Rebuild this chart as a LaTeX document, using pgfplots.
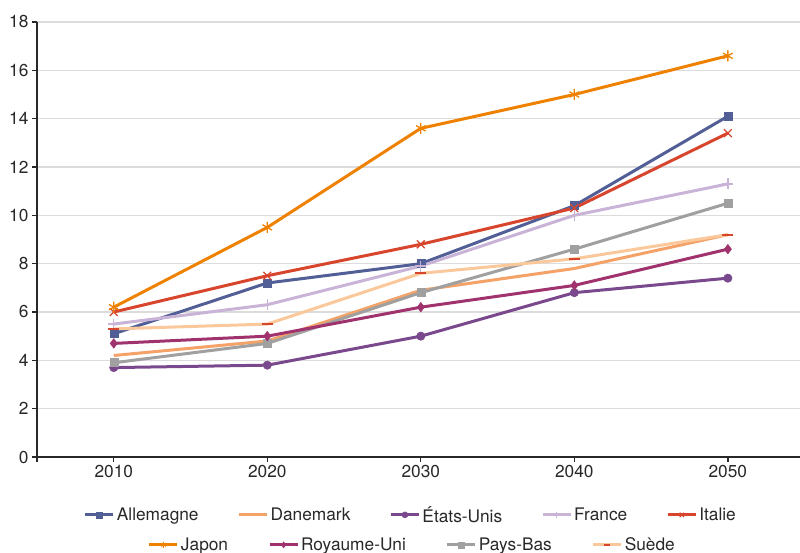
\documentclass[border=0pt]{standalone}
\usepackage{pgfplots}
\pgfplotsset{compat=1.18}
\usepackage{fontspec}
\setmainfont{TeX Gyre Heros}
\definecolor{cAll}{RGB}{82,94,150}
\definecolor{cDan}{RGB}{244,162,104}
\definecolor{cUS}{RGB}{122,72,140}
\definecolor{cFra}{RGB}{201,180,215}
\definecolor{cIta}{RGB}{216,69,45}
\definecolor{cJap}{RGB}{238,130,0}
\definecolor{cUK}{RGB}{160,50,110}
\definecolor{cPB}{RGB}{160,160,160}
\definecolor{cSue}{RGB}{250,200,155}
\definecolor{cAxis}{RGB}{40,40,40}
\definecolor{cGrid}{RGB}{220,220,220}
\newcommand{\chartfont}{\fontsize{17.3}{20}\selectfont}
\pgfplotsset{
  leg/.style={legend image code/.code={\draw[mark repeat=2,mark phase=2,mark size=3pt] plot coordinates {(0pt,0pt) (14pt,0pt) (28pt,0pt)};}},
}
\begin{document}
\begin{tikzpicture}
\useasboundingbox (-37pt,-96pt) rectangle (763pt,457pt);
\begin{axis}[
  at={(0pt,0pt)}, anchor=south west,
  width=763pt, height=435pt, scale only axis,
  xmin=2005, xmax=2054.7, ymin=0, ymax=18,
  axis x line*=bottom, axis y line*=left,
  axis line style={cAxis, line width=1.3pt},
  xtick={2005,2010,2020,2030,2040,2050},
  xticklabels={,2010,2020,2030,2040,2050},
  ytick={0,2,...,18},
  tick align=outside, major tick length=5pt,
  tick style={cAxis, line width=1.3pt},
  ymajorgrids, major grid style={cGrid, line width=1.3pt},
  tick label style={font=\chartfont, text=cAxis},
  /pgf/number format/assume math mode=true,
  every axis plot/.append style={line width=3pt},
  leg,
  legend columns=5,
  legend style={draw=none, fill=none, font=\chartfont, at={(0.490,-0.133)}, anchor=center,
    /tikz/every even column/.append style={column sep=37pt}, text=cAxis},
]
\addplot[cAll, mark=square*, mark size=4pt, mark options={solid, line width=0.5pt}] coordinates {(2010,5.1) (2020,7.2) (2030,8.0) (2040,10.4) (2050,14.1)};
\addlegendentry{Allemagne}
\addplot[cDan, no marks] coordinates {(2010,4.2) (2020,4.8) (2030,6.9) (2040,7.8) (2050,9.2)};
\addlegendentry{Danemark}
\addplot[cUS, mark=*, mark size=4.2pt, mark options={line width=0.5pt}] coordinates {(2010,3.7) (2020,3.8) (2030,5.0) (2040,6.8) (2050,7.4)};
\addlegendentry{États-Unis}
\addplot[cFra, mark=+, mark size=5.5pt, mark options={line width=1.3pt}] coordinates {(2010,5.5) (2020,6.3) (2030,7.9) (2040,10.0) (2050,11.3)};
\addlegendentry{France}
\addplot[cIta, mark=x, mark size=5.5pt, mark options={line width=1.3pt}] coordinates {(2010,6.0) (2020,7.5) (2030,8.8) (2040,10.3) (2050,13.4)};
\addlegendentry{Italie}
\addplot[cPB, mark=square*, mark size=4pt, mark options={line width=0.5pt}, forget plot] coordinates {(2010,3.9) (2020,4.7) (2030,6.8) (2040,8.6) (2050,10.5)};
\addplot[cSue, mark=-, mark size=5.5pt, mark options={cIta, line width=2pt}, forget plot] coordinates {(2010,5.3) (2020,5.5) (2030,7.6) (2040,8.2) (2050,9.2)};
\addplot[cUK, mark=diamond*, mark size=4.8pt, mark options={line width=0.5pt}, forget plot] coordinates {(2010,4.7) (2020,5.0) (2030,6.2) (2040,7.1) (2050,8.6)};
\addplot[cJap, mark=asterisk, mark size=5.5pt, mark options={line width=1.3pt}, forget plot] coordinates {(2010,6.2) (2020,9.5) (2030,13.6) (2040,15.0) (2050,16.6)};
\end{axis}
\begin{axis}[
  at={(0pt,0pt)}, anchor=south west,
  width=763pt, height=435pt, scale only axis,
  xmin=0, xmax=1, ymin=0, ymax=1, hide axis,
  every axis plot/.append style={line width=3pt},
  leg,
  legend columns=4,
  legend style={draw=none, fill=none, font=\chartfont, at={(0.492,-0.202)}, anchor=center,
    /tikz/every even column/.append style={column sep=38pt}, text=cAxis},
]
\addlegendimage{cJap, mark=asterisk, mark options={line width=1pt}}
\addlegendentry{Japon}
\addlegendimage{cUK, mark=diamond*, mark options={line width=0.5pt}}
\addlegendentry{Royaume-Uni}
\addlegendimage{cPB, mark=square*, mark options={line width=0.5pt}}
\addlegendentry{Pays-Bas}
\addlegendimage{cSue, mark=-, mark options={cIta, line width=2pt}}
\addlegendentry{Suède}
\end{axis}
\end{tikzpicture}
\end{document}
